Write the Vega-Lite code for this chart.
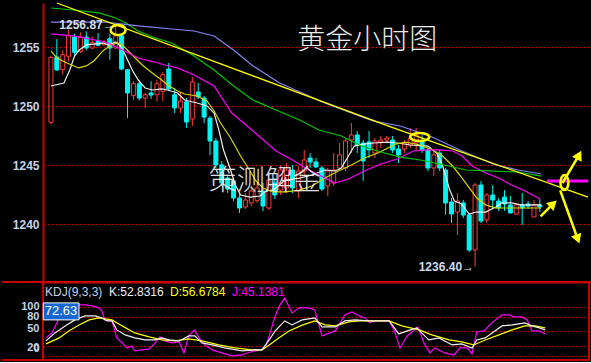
{
"$schema": "https://vega.github.io/schema/vega-lite/v6.json",
"background": "#000000",
"padding": 0,
"spacing": 0,
"bounds": "flush",
"resolve": {"scale": {"color": "independent"}},
"config": {
 "view": {"stroke": null},
 "axis": {"ticks": false, "grid": true, "labelOverlap": false, "format": "d", "labelFont": "Liberation Sans", "labelFontSize": 12, "labelFontWeight": "bold", "labelColor": "#c0d2e8", "labelPadding": 4, "gridColor": "#d00000", "gridDash": [2, 2], "gridWidth": 1, "gridOpacity": 1, "domainColor": "#c80000", "domainWidth": 2},
 "axisX": {"labels": false, "grid": false},
 "text": {"font": "Liberation Sans"}
},
"datasets": {
 "candles": [
{"i":0,"o":1248.64,"h":1254.3,"l":1248.5,"c":1254.15},
{"i":1,"o":1254.18,"h":1255.7,"l":1253.0,"c":1253.08},
{"i":2,"o":1253.1,"h":1254.75,"l":1252.68,"c":1254.37},
{"i":3,"o":1254.24,"h":1256.49,"l":1253.81,"c":1255.98},
{"i":4,"o":1255.87,"h":1256.15,"l":1254.37,"c":1254.58},
{"i":5,"o":1254.66,"h":1256.27,"l":1254.52,"c":1255.87},
{"i":6,"o":1255.87,"h":1256.36,"l":1254.75,"c":1254.94},
{"i":7,"o":1254.94,"h":1255.93,"l":1254.86,"c":1255.42},
{"i":8,"o":1255.51,"h":1256.21,"l":1255.08,"c":1255.17},
{"i":9,"o":1255.22,"h":1255.62,"l":1255.11,"c":1255.42},
{"i":10,"o":1255.73,"h":1256.15,"l":1253.95,"c":1254.94},
{"i":11,"o":1254.94,"h":1256.87,"l":1254.86,"c":1255.98},
{"i":12,"o":1255.98,"h":1256.2,"l":1253.05,"c":1253.16},
{"i":13,"o":1253.1,"h":1253.16,"l":1249.0,"c":1251.13},
{"i":14,"o":1250.9,"h":1252.12,"l":1250.51,"c":1251.91},
{"i":15,"o":1251.91,"h":1252.25,"l":1250.51,"c":1250.7},
{"i":16,"o":1250.7,"h":1251.13,"l":1249.86,"c":1250.98},
{"i":17,"o":1251.13,"h":1252.12,"l":1250.62,"c":1250.96},
{"i":18,"o":1250.98,"h":1252.25,"l":1250.42,"c":1251.91},
{"i":19,"o":1251.27,"h":1252.88,"l":1250.42,"c":1252.68},
{"i":20,"o":1253.16,"h":1253.67,"l":1251.3,"c":1251.47},
{"i":21,"o":1250.98,"h":1251.55,"l":1249.43,"c":1249.86},
{"i":22,"o":1249.86,"h":1251.21,"l":1249.43,"c":1250.45},
{"i":23,"o":1250.37,"h":1250.7,"l":1248.16,"c":1248.67},
{"i":24,"o":1248.92,"h":1252.48,"l":1248.33,"c":1252.06},
{"i":25,"o":1251.21,"h":1251.97,"l":1250.62,"c":1250.79},
{"i":26,"o":1250.7,"h":1250.87,"l":1248.58,"c":1249.09},
{"i":27,"o":1249.0,"h":1249.18,"l":1245.87,"c":1247.06},
{"i":28,"o":1247.06,"h":1247.31,"l":1244.77,"c":1245.03},
{"i":29,"o":1245.03,"h":1245.36,"l":1243.24,"c":1243.5},
{"i":30,"o":1243.92,"h":1244.18,"l":1242.65,"c":1242.99},
{"i":31,"o":1243.67,"h":1243.92,"l":1241.97,"c":1242.23},
{"i":32,"o":1242.23,"h":1242.65,"l":1240.96,"c":1241.38},
{"i":33,"o":1241.47,"h":1242.65,"l":1241.3,"c":1242.06},
{"i":34,"o":1241.81,"h":1243.25,"l":1241.55,"c":1242.82},
{"i":35,"o":1242.0,"h":1243.5,"l":1241.81,"c":1243.08},
{"i":36,"o":1242.82,"h":1243.5,"l":1241.13,"c":1241.55},
{"i":37,"o":1241.38,"h":1244.18,"l":1241.21,"c":1243.75},
{"i":38,"o":1243.5,"h":1243.92,"l":1242.14,"c":1242.48},
{"i":39,"o":1242.9,"h":1245.03,"l":1242.48,"c":1244.6},
{"i":40,"o":1243.08,"h":1245.2,"l":1242.65,"c":1244.6},
{"i":41,"o":1244.6,"h":1245.03,"l":1242.65,"c":1243.08},
{"i":42,"o":1242.82,"h":1244.94,"l":1242.23,"c":1244.52},
{"i":43,"o":1244.52,"h":1246.3,"l":1244.18,"c":1245.45},
{"i":44,"o":1245.62,"h":1246.04,"l":1244.77,"c":1245.28},
{"i":45,"o":1245.28,"h":1245.62,"l":1244.77,"c":1244.86},
{"i":46,"o":1244.77,"h":1244.94,"l":1242.82,"c":1242.99},
{"i":47,"o":1243.25,"h":1244.77,"l":1242.4,"c":1244.52},
{"i":48,"o":1243.5,"h":1246.04,"l":1243.25,"c":1244.6},
{"i":49,"o":1244.77,"h":1246.89,"l":1244.6,"c":1245.88},
{"i":50,"o":1244.77,"h":1247.31,"l":1244.52,"c":1247.06},
{"i":51,"o":1247.14,"h":1248.58,"l":1246.04,"c":1247.57},
{"i":52,"o":1247.57,"h":1247.91,"l":1246.04,"c":1246.72},
{"i":53,"o":1246.89,"h":1247.14,"l":1243.67,"c":1245.37},
{"i":54,"o":1246.98,"h":1247.91,"l":1245.62,"c":1246.3},
{"i":55,"o":1246.04,"h":1247.31,"l":1245.62,"c":1247.06},
{"i":56,"o":1246.98,"h":1247.48,"l":1246.47,"c":1247.14},
{"i":57,"o":1247.14,"h":1247.48,"l":1246.89,"c":1247.31},
{"i":58,"o":1247.14,"h":1247.48,"l":1246.04,"c":1246.3},
{"i":59,"o":1246.38,"h":1246.72,"l":1245.2,"c":1245.87},
{"i":60,"o":1246.38,"h":1247.14,"l":1246.04,"c":1246.89},
{"i":61,"o":1246.72,"h":1248.16,"l":1246.47,"c":1247.31},
{"i":62,"o":1246.89,"h":1248.16,"l":1246.21,"c":1247.57},
{"i":63,"o":1247.06,"h":1247.57,"l":1246.04,"c":1246.3},
{"i":64,"o":1246.3,"h":1246.47,"l":1244.52,"c":1244.77},
{"i":65,"o":1244.77,"h":1246.21,"l":1244.1,"c":1245.88},
{"i":66,"o":1246.04,"h":1246.3,"l":1244.52,"c":1244.77},
{"i":67,"o":1244.6,"h":1244.77,"l":1240.8,"c":1241.81},
{"i":68,"o":1241.89,"h":1242.23,"l":1240.11,"c":1240.87},
{"i":69,"o":1241.04,"h":1242.65,"l":1239.09,"c":1241.97},
{"i":70,"o":1241.81,"h":1242.06,"l":1240.54,"c":1240.79},
{"i":71,"o":1240.79,"h":1240.96,"l":1237.65,"c":1237.82},
{"i":72,"o":1237.82,"h":1243.5,"l":1236.4,"c":1243.33},
{"i":73,"o":1243.33,"h":1243.67,"l":1240.11,"c":1240.28},
{"i":74,"o":1240.37,"h":1242.65,"l":1240.11,"c":1242.48},
{"i":75,"o":1242.48,"h":1243.33,"l":1241.3,"c":1242.06},
{"i":76,"o":1241.97,"h":1242.23,"l":1241.13,"c":1241.38},
{"i":77,"o":1242.31,"h":1242.9,"l":1241.13,"c":1241.72},
{"i":78,"o":1241.64,"h":1242.4,"l":1240.96,"c":1240.96},
{"i":79,"o":1240.87,"h":1241.81,"l":1240.79,"c":1241.64},
{"i":80,"o":1241.64,"h":1242.65,"l":1239.94,"c":1241.38},
{"i":81,"o":1241.72,"h":1241.97,"l":1241.3,"c":1241.55},
{"i":82,"o":1240.62,"h":1242.06,"l":1240.62,"c":1241.64},
{"i":83,"o":1241.64,"h":1242.14,"l":1241.04,"c":1241.47}
 ],
 "ma": [
{"s":"MA5","i":0,"v":1251.72},{"s":"MA5","i":2.2,"v":1251.97},{"s":"MA5","i":3.2,"v":1253.08},{"s":"MA5","i":4,"v":1254.26},{"s":"MA5","i":4.8,"v":1254.77},{"s":"MA5","i":6,"v":1255.2},{"s":"MA5","i":8.8,"v":1255.36},{"s":"MA5","i":9.8,"v":1255.2},{"s":"MA5","i":11,"v":1255.45},{"s":"MA5","i":11.8,"v":1255.11},{"s":"MA5","i":12.7,"v":1254.26},{"s":"MA5","i":13.8,"v":1253.08},{"s":"MA5","i":14.8,"v":1252.23},{"s":"MA5","i":16,"v":1251.55},{"s":"MA5","i":17.2,"v":1251.38},{"s":"MA5","i":18.8,"v":1251.47},{"s":"MA5","i":19.8,"v":1251.38},{"s":"MA5","i":21.5,"v":1251.13},{"s":"MA5","i":22.7,"v":1250.53},{"s":"MA5","i":24.8,"v":1250.28},{"s":"MA5","i":26.5,"v":1250.03},{"s":"MA5","i":27.7,"v":1249.43},{"s":"MA5","i":28.5,"v":1248.0},{"s":"MA5","i":29.3,"v":1246.3},{"s":"MA5","i":30.5,"v":1244.6},{"s":"MA5","i":31.3,"v":1243.33},{"s":"MA5","i":32.2,"v":1242.48},{"s":"MA5","i":33.8,"v":1242.31},{"s":"MA5","i":35.5,"v":1242.4},{"s":"MA5","i":36.5,"v":1242.82},{"s":"MA5","i":37.7,"v":1242.9},{"s":"MA5","i":39.8,"v":1243.75},{"s":"MA5","i":42.2,"v":1243.92},{"s":"MA5","i":44.3,"v":1244.18},{"s":"MA5","i":46.5,"v":1244.6},{"s":"MA5","i":48.2,"v":1244.52},{"s":"MA5","i":49.3,"v":1244.77},{"s":"MA5","i":50.5,"v":1245.79},{"s":"MA5","i":51.5,"v":1246.63},{"s":"MA5","i":53,"v":1246.8},{"s":"MA5","i":54.8,"v":1246.89},{"s":"MA5","i":57.2,"v":1246.97},{"s":"MA5","i":58.8,"v":1246.89},{"s":"MA5","i":61,"v":1246.72},{"s":"MA5","i":64,"v":1246.63},{"s":"MA5","i":65.5,"v":1246.04},{"s":"MA5","i":66.5,"v":1244.94},{"s":"MA5","i":67.7,"v":1242.9},{"s":"MA5","i":68.5,"v":1241.97},{"s":"MA5","i":69.7,"v":1241.72},{"s":"MA5","i":71,"v":1240.87},{"s":"MA5","i":72.2,"v":1241.04},{"s":"MA5","i":73.8,"v":1241.04},{"s":"MA5","i":75.5,"v":1241.47},{"s":"MA5","i":76.5,"v":1241.81},{"s":"MA5","i":78.2,"v":1241.81},{"s":"MA5","i":79.8,"v":1241.64},{"s":"MA5","i":81.5,"v":1241.64},{"s":"MA5","i":83.2,"v":1241.64},
{"s":"MA10","i":0,"v":1254.69},{"s":"MA10","i":1,"v":1254.1},{"s":"MA10","i":2.7,"v":1253.67},{"s":"MA10","i":4.7,"v":1253.25},{"s":"MA10","i":6,"v":1253.42},{"s":"MA10","i":7.3,"v":1253.84},{"s":"MA10","i":8.8,"v":1254.69},{"s":"MA10","i":10.2,"v":1255.2},{"s":"MA10","i":11.3,"v":1255.37},{"s":"MA10","i":12.3,"v":1255.11},{"s":"MA10","i":13.8,"v":1254.35},{"s":"MA10","i":15.5,"v":1253.5},{"s":"MA10","i":17.2,"v":1252.82},{"s":"MA10","i":18.8,"v":1252.23},{"s":"MA10","i":19.8,"v":1251.8},{"s":"MA10","i":21.5,"v":1251.3},{"s":"MA10","i":22.7,"v":1251.04},{"s":"MA10","i":24.8,"v":1250.87},{"s":"MA10","i":26.5,"v":1250.45},{"s":"MA10","i":27.7,"v":1249.6},{"s":"MA10","i":28.8,"v":1248.58},{"s":"MA10","i":30.5,"v":1247.31},{"s":"MA10","i":32.2,"v":1245.79},{"s":"MA10","i":33.8,"v":1244.52},{"s":"MA10","i":34.8,"v":1243.67},{"s":"MA10","i":36,"v":1243.08},{"s":"MA10","i":37.7,"v":1242.74},{"s":"MA10","i":39.8,"v":1242.74},{"s":"MA10","i":42.2,"v":1242.9},{"s":"MA10","i":44.3,"v":1243.25},{"s":"MA10","i":46.5,"v":1243.92},{"s":"MA10","i":48.8,"v":1244.52},{"s":"MA10","i":51,"v":1245.03},{"s":"MA10","i":53.2,"v":1245.62},{"s":"MA10","i":55.5,"v":1246.04},{"s":"MA10","i":57.2,"v":1246.47},{"s":"MA10","i":58.5,"v":1246.8},{"s":"MA10","i":60.2,"v":1246.97},{"s":"MA10","i":62.7,"v":1246.72},{"s":"MA10","i":64.8,"v":1246.3},{"s":"MA10","i":66.5,"v":1245.79},{"s":"MA10","i":68.2,"v":1244.94},{"s":"MA10","i":69.8,"v":1243.92},{"s":"MA10","i":71.3,"v":1242.9},{"s":"MA10","i":72.3,"v":1242.23},{"s":"MA10","i":73.8,"v":1241.64},{"s":"MA10","i":75.5,"v":1241.38},{"s":"MA10","i":83.2,"v":1241.38},
{"s":"MA20","i":0,"v":1256.13},{"s":"MA20","i":3.8,"v":1255.96},{"s":"MA20","i":9.3,"v":1255.45},{"s":"MA20","i":12.2,"v":1254.77},{"s":"MA20","i":14.8,"v":1254.09},{"s":"MA20","i":17.7,"v":1253.75},{"s":"MA20","i":19.3,"v":1253.5},{"s":"MA20","i":21.5,"v":1253.25},{"s":"MA20","i":24.3,"v":1252.65},{"s":"MA20","i":27.7,"v":1251.72},{"s":"MA20","i":30.7,"v":1249.43},{"s":"MA20","i":32.7,"v":1248.58},{"s":"MA20","i":35.5,"v":1247.4},{"s":"MA20","i":38.2,"v":1246.21},{"s":"MA20","i":41,"v":1245.45},{"s":"MA20","i":43.8,"v":1244.6},{"s":"MA20","i":46.5,"v":1243.92},{"s":"MA20","i":48.2,"v":1243.5},{"s":"MA20","i":50.5,"v":1243.84},{"s":"MA20","i":53.2,"v":1244.52},{"s":"MA20","i":56,"v":1245.11},{"s":"MA20","i":58.8,"v":1245.53},{"s":"MA20","i":61.5,"v":1246.21},{"s":"MA20","i":63.8,"v":1246.3},{"s":"MA20","i":66,"v":1246.3},{"s":"MA20","i":68.2,"v":1246.21},{"s":"MA20","i":69.8,"v":1245.79},{"s":"MA20","i":71.5,"v":1244.94},{"s":"MA20","i":73.8,"v":1244.35},{"s":"MA20","i":76,"v":1243.92},{"s":"MA20","i":78.2,"v":1243.33},{"s":"MA20","i":80.5,"v":1242.82},{"s":"MA20","i":83,"v":1242.14},
{"s":"MA60","i":0,"v":1258.33},{"s":"MA60","i":3.8,"v":1258.16},{"s":"MA60","i":8.2,"v":1257.91},{"s":"MA60","i":11,"v":1257.48},{"s":"MA60","i":12.7,"v":1257.06},{"s":"MA60","i":14.8,"v":1256.38},{"s":"MA60","i":17.7,"v":1255.79},{"s":"MA60","i":20.5,"v":1255.36},{"s":"MA60","i":24.3,"v":1254.26},{"s":"MA60","i":27.7,"v":1253.08},{"s":"MA60","i":31,"v":1251.72},{"s":"MA60","i":34.3,"v":1250.53},{"s":"MA60","i":38.2,"v":1249.69},{"s":"MA60","i":42.2,"v":1248.84},{"s":"MA60","i":45.5,"v":1247.99},{"s":"MA60","i":49.3,"v":1247.48},{"s":"MA60","i":52.7,"v":1246.63},{"s":"MA60","i":56,"v":1246.13},{"s":"MA60","i":59.3,"v":1245.7},{"s":"MA60","i":62.7,"v":1245.45},{"s":"MA60","i":66,"v":1245.11},{"s":"MA60","i":70.5,"v":1244.6},{"s":"MA60","i":74.3,"v":1244.52},{"s":"MA60","i":79.3,"v":1244.43},{"s":"MA60","i":83.2,"v":1244.09},
{"s":"MA120","i":0,"v":1257.14},{"s":"MA120","i":9.3,"v":1257.14},{"s":"MA120","i":14.8,"v":1256.81},{"s":"MA120","i":20.5,"v":1256.55},{"s":"MA120","i":24.3,"v":1256.38},{"s":"MA120","i":27.7,"v":1255.96},{"s":"MA120","i":31,"v":1254.77},{"s":"MA120","i":34.3,"v":1253.42},{"s":"MA120","i":38.8,"v":1251.97},{"s":"MA120","i":42.7,"v":1251.13},{"s":"MA120","i":46.5,"v":1250.28},{"s":"MA120","i":51,"v":1249.43},{"s":"MA120","i":54.8,"v":1248.75},{"s":"MA120","i":59.3,"v":1248.33},{"s":"MA120","i":64.3,"v":1247.48},{"s":"MA120","i":69.8,"v":1246.21},{"s":"MA120","i":75.5,"v":1245.03},{"s":"MA120","i":79.3,"v":1244.6},{"s":"MA120","i":83.2,"v":1244.26}
 ],
 "kdj": [
{"s":"J","i":0,"v":36.6},{"s":"J","i":1,"v":46.9},{"s":"J","i":1.8,"v":67.6},{"s":"J","i":2.7,"v":92.4},{"s":"J","i":3.5,"v":102.7},{"s":"J","i":4.7,"v":104.8},{"s":"J","i":6.5,"v":104.8},{"s":"J","i":7.7,"v":102.7},{"s":"J","i":8.8,"v":98.6},{"s":"J","i":9.3,"v":92.4},{"s":"J","i":9.8,"v":73.8},{"s":"J","i":11,"v":71.7},{"s":"J","i":11.8,"v":36.6},{"s":"J","i":12.7,"v":26.2},{"s":"J","i":13.5,"v":15.9},{"s":"J","i":14.3,"v":20},{"s":"J","i":14.8,"v":9.7},{"s":"J","i":16,"v":11.8},{"s":"J","i":17.2,"v":13.8},{"s":"J","i":18.2,"v":26.2},{"s":"J","i":19,"v":38.6},{"s":"J","i":19.8,"v":30.4},{"s":"J","i":21,"v":26.2},{"s":"J","i":22.2,"v":28.3},{"s":"J","i":23,"v":5.6},{"s":"J","i":23.8,"v":40.7},{"s":"J","i":24.7,"v":53.1},{"s":"J","i":25.5,"v":36.6},{"s":"J","i":26.5,"v":22.1},{"s":"J","i":27.7,"v":11.8},{"s":"J","i":29.3,"v":5.6},{"s":"J","i":31,"v":-0.6},{"s":"J","i":32.7,"v":1.4},{"s":"J","i":34,"v":7.6},{"s":"J","i":35.7,"v":11.8},{"s":"J","i":36.5,"v":15.9},{"s":"J","i":37.2,"v":40.7},{"s":"J","i":38.2,"v":82},{"s":"J","i":39,"v":104.8},{"s":"J","i":39.8,"v":119.2},{"s":"J","i":41,"v":88.2},{"s":"J","i":42.2,"v":98.6},{"s":"J","i":43.8,"v":98.6},{"s":"J","i":44.8,"v":94.5},{"s":"J","i":46,"v":40.7},{"s":"J","i":48.2,"v":51},{"s":"J","i":49.8,"v":84.1},{"s":"J","i":51,"v":90.3},{"s":"J","i":52.2,"v":82},{"s":"J","i":53.2,"v":77.9},{"s":"J","i":54,"v":67.6},{"s":"J","i":54.7,"v":71.7},{"s":"J","i":57.2,"v":71.7},{"s":"J","i":58,"v":53.1},{"s":"J","i":59,"v":15.9},{"s":"J","i":60.2,"v":40.7},{"s":"J","i":62,"v":59.3},{"s":"J","i":63,"v":26.2},{"s":"J","i":64,"v":5.6},{"s":"J","i":64.8,"v":15.9},{"s":"J","i":66.5,"v":5.6},{"s":"J","i":68,"v":1.4},{"s":"J","i":69,"v":15.9},{"s":"J","i":70.2,"v":15.9},{"s":"J","i":71,"v":3.5},{"s":"J","i":71.8,"v":48.9},{"s":"J","i":73,"v":51},{"s":"J","i":74.3,"v":67.6},{"s":"J","i":76,"v":84.1},{"s":"J","i":77.2,"v":84.1},{"s":"J","i":78,"v":80},{"s":"J","i":79.3,"v":80},{"s":"J","i":80.2,"v":73.8},{"s":"J","i":81,"v":51},{"s":"J","i":82.2,"v":51},{"s":"J","i":83.2,"v":44.8},
{"s":"D","i":0,"v":24.2},{"s":"D","i":2.2,"v":36.6},{"s":"D","i":3.8,"v":51},{"s":"D","i":5.5,"v":63.4},{"s":"D","i":7.2,"v":73.8},{"s":"D","i":8.8,"v":77.9},{"s":"D","i":11,"v":73.8},{"s":"D","i":12.7,"v":61.4},{"s":"D","i":14.8,"v":46.9},{"s":"D","i":17.2,"v":38.6},{"s":"D","i":19.3,"v":32.4},{"s":"D","i":21.5,"v":30.4},{"s":"D","i":23.8,"v":34.5},{"s":"D","i":26,"v":30.4},{"s":"D","i":28.8,"v":22.1},{"s":"D","i":31.5,"v":15.9},{"s":"D","i":34.3,"v":11.8},{"s":"D","i":36,"v":11.8},{"s":"D","i":37.2,"v":22.1},{"s":"D","i":38.8,"v":36.6},{"s":"D","i":40.5,"v":51},{"s":"D","i":42.7,"v":63},{"s":"D","i":44.8,"v":71.7},{"s":"D","i":46.5,"v":63.4},{"s":"D","i":48.2,"v":61.4},{"s":"D","i":50.5,"v":69.6},{"s":"D","i":52.2,"v":71.7},{"s":"D","i":57.2,"v":71.7},{"s":"D","i":59.3,"v":61.4},{"s":"D","i":62.2,"v":53.1},{"s":"D","i":64.3,"v":42.8},{"s":"D","i":67.2,"v":32.4},{"s":"D","i":69.3,"v":28.3},{"s":"D","i":71.3,"v":22.1},{"s":"D","i":73.2,"v":32.4},{"s":"D","i":75.5,"v":42.8},{"s":"D","i":77.7,"v":53.1},{"s":"D","i":79.8,"v":61.4},{"s":"D","i":81.5,"v":61.4},{"s":"D","i":83.2,"v":57.2},
{"s":"K","i":0,"v":30.4},{"s":"K","i":1.5,"v":46.9},{"s":"K","i":3.2,"v":61.4},{"s":"K","i":4.8,"v":73.8},{"s":"K","i":6.5,"v":82},{"s":"K","i":8.2,"v":82},{"s":"K","i":9.3,"v":77.9},{"s":"K","i":10.2,"v":71.7},{"s":"K","i":11,"v":71.7},{"s":"K","i":11.8,"v":53.1},{"s":"K","i":13.2,"v":42.8},{"s":"K","i":14.8,"v":36.6},{"s":"K","i":16.5,"v":32.4},{"s":"K","i":18.2,"v":32.4},{"s":"K","i":19.3,"v":36.6},{"s":"K","i":20.5,"v":32.4},{"s":"K","i":22.2,"v":30.4},{"s":"K","i":23.8,"v":40.7},{"s":"K","i":24.8,"v":40.7},{"s":"K","i":26,"v":26.2},{"s":"K","i":27.7,"v":22.1},{"s":"K","i":29.8,"v":15.9},{"s":"K","i":32.7,"v":9.7},{"s":"K","i":34.8,"v":11.8},{"s":"K","i":36,"v":11.8},{"s":"K","i":37.2,"v":32.4},{"s":"K","i":38.2,"v":51},{"s":"K","i":39.8,"v":71.7},{"s":"K","i":41,"v":63.4},{"s":"K","i":42.7,"v":73.8},{"s":"K","i":44.8,"v":77.9},{"s":"K","i":46,"v":59.3},{"s":"K","i":48.2,"v":59.3},{"s":"K","i":49.8,"v":71.7},{"s":"K","i":51.5,"v":73.8},{"s":"K","i":53.8,"v":71.7},{"s":"K","i":57.2,"v":71.7},{"s":"K","i":58.8,"v":44.8},{"s":"K","i":60.2,"v":51},{"s":"K","i":61.8,"v":57.2},{"s":"K","i":63.8,"v":32.4},{"s":"K","i":65.5,"v":36.6},{"s":"K","i":67.7,"v":22.1},{"s":"K","i":69.3,"v":24.2},{"s":"K","i":71,"v":15.9},{"s":"K","i":71.8,"v":32.4},{"s":"K","i":73.2,"v":36.6},{"s":"K","i":76,"v":61.4},{"s":"K","i":77.7,"v":63.4},{"s":"K","i":79.8,"v":67.6},{"s":"K","i":81,"v":61.4},{"s":"K","i":82.2,"v":57.2},{"s":"K","i":83.2,"v":53.1}
 ]
},
"vconcat": [
 {
  "width": 550,
  "height": 279,
  "encoding": {
   "x": {"field": "i", "type": "quantitative", "title": null, "scale": {"domain": [-0.5, 91.17], "nice": false, "zero": false}},
   "y": {"field": "v", "type": "quantitative", "title": null, "scale": {"domain": [1235.11, 1258.754], "nice": false, "zero": false}, "axis": {"values": [1240, 1245, 1250, 1255], "grid": true}}
  },
  "layer": [
   {"data": {"name": "candles"}, "mark": {"type": "rule", "strokeWidth": 1},
    "encoding": {
     "y": {"field": "l", "type": "quantitative", "title": null, "scale": {"domain": [1235.11, 1258.754], "nice": false, "zero": false}, "axis": {"values": [1240, 1245, 1250, 1255], "grid": true}},
     "y2": {"field": "h"},
     "color": {"condition": {"test": "datum.c > datum.o", "value": "#ff3c3c"}, "value": "#00f4f4"}}},
   {"data": {"name": "candles"}, "mark": {"type": "bar", "size": 4, "strokeWidth": 1},
    "encoding": {
     "y": {"field": "o", "type": "quantitative", "title": null, "scale": {"domain": [1235.11, 1258.754], "nice": false, "zero": false}, "axis": {"values": [1240, 1245, 1250, 1255], "grid": true}},
     "y2": {"field": "c"},
     "fill": {"condition": {"test": "datum.c > datum.o", "value": "#000000"}, "value": "#00f4f4"},
     "stroke": {"condition": {"test": "datum.c > datum.o", "value": "#ff3c3c"}, "value": "#00f4f4"}}},
   {"data": {"name": "ma"}, "mark": {"type": "line", "strokeWidth": 1.2},
    "encoding": {
     "color": {"field": "s", "type": "nominal", "legend": null, "scale": {"domain": ["MA5", "MA10", "MA20", "MA60", "MA120"], "range": ["#eeeeee", "#d6d600", "#ff00ff", "#00c800", "#8484f0"]}}}},
   {"data": {"values": [{"i": 1, "v": 1258.754}, {"i": 57.67, "v": 1248.25}, {"i": 91.17, "v": 1242.31}]},
    "mark": {"type": "line", "color": "#ffff00", "strokeWidth": 1.3}},
   {"data": {"values": [{"i": 84.2, "i2": 91.2, "v": 1243.67}]},
    "mark": {"type": "rule", "color": "#ff00ff", "strokeWidth": 3},
    "encoding": {"x2": {"field": "i2"}}},
   {"data": {"values": [{"i": 83.12, "v": 1240.68, "i2": 85.27, "v2": 1241.75}, {"i": 86.83, "v": 1243.5, "i2": 89.65, "v2": 1245.87}, {"i": 86.45, "v": 1242.88, "i2": 89.43, "v2": 1238.75}]},
    "mark": {"type": "rule", "color": "#ffff00", "strokeWidth": 2.5},
    "encoding": {"x2": {"field": "i2"}, "y2": {"field": "v2"}}},
   {"data": {"values": [{"i": 85.27, "v": 1241.75}]},
    "mark": {"type": "point", "shape": "triangle-up", "angle": 47, "size": 120, "filled": true, "color": "#ffff00", "opacity": 1}},
   {"data": {"values": [{"i": 89.65, "v": 1245.87}]},
    "mark": {"type": "point", "shape": "triangle-up", "angle": 28, "size": 120, "filled": true, "color": "#ffff00", "opacity": 1}},
   {"data": {"values": [{"i": 89.43, "v": 1238.75}]},
    "mark": {"type": "point", "shape": "triangle-up", "angle": 160, "size": 120, "filled": true, "color": "#ffff00", "opacity": 1}},
   {"data": {"values": [{"i": 11.4, "v": 1256.47}]},
    "mark": {"type": "point", "shape": "M -1 0 A 1 0.67 0 1 1 1 0 A 1 0.67 0 1 1 -1 0 Z", "size": 225, "filled": false, "color": "#ffff00", "strokeWidth": 2.5, "opacity": 1}},
   {"data": {"values": [{"i": 62.6, "v": 1247.4}]},
    "mark": {"type": "point", "shape": "M -1 0 A 1 0.42 0 1 1 1 0 A 1 0.42 0 1 1 -1 0 Z", "size": 361, "filled": false, "color": "#ffff00", "strokeWidth": 2.5, "opacity": 1}},
   {"data": {"values": [{"i": 87.17, "v": 1243.54}]},
    "mark": {"type": "point", "shape": "M 0 -1 A 0.53 1 0 1 1 0 1 A 0.53 1 0 1 1 0 -1 Z", "size": 225, "filled": false, "color": "#ffff00", "strokeWidth": 2.5, "opacity": 1}},
   {"data": {"values": [{"i": 11, "v": 1256.87, "t": "1256.87→"}, {"i": 72, "v": 1236.4, "t": "1236.40→"}]},
    "mark": {"type": "text", "align": "right", "baseline": "middle", "dx": -1, "fontSize": 12, "fontWeight": "bold", "color": "#d0dcec"},
    "encoding": {"text": {"field": "t"}}},
   {"data": {"values": [{"i": 53.7, "v": 1255.5, "t": "黄金小时图"}]},
    "mark": {"type": "text", "align": "center", "baseline": "middle", "fontSize": 28, "font": "Noto Sans CJK SC", "fontWeight": 300, "color": "#ececec"},
    "encoding": {"text": {"field": "t"}}},
   {"data": {"values": [{"i": 36.3, "v": 1243.6, "t": "策测解金"}]},
    "mark": {"type": "text", "align": "center", "baseline": "middle", "fontSize": 28, "font": "Noto Sans CJK SC", "fontWeight": 300, "color": "#f4f4f4", "opacity": 0.9},
    "encoding": {"text": {"field": "t"}}}
  ]
 },
 {
  "width": 546,
  "height": 78,
  "view": {"stroke": "#c80000", "strokeWidth": 2},
  "encoding": {
   "x": {"field": "i", "type": "quantitative", "title": null, "axis": null, "scale": {"domain": [-0.5, 90.5], "nice": false, "zero": false}},
   "y": {"field": "v", "type": "quantitative", "title": null, "scale": {"domain": [-9, 152], "nice": false, "zero": false},
      "axis": {"values": [0, 20, 50, 80, 100], "grid": true, "domain": false, "labelFontSize": 11, "labelOffset": {"condition": [{"test": "datum.value == 0", "value": -7}, {"test": "datum.value == 50", "value": -3}, {"test": "datum.value == 20", "value": 2}, {"test": "datum.value == 100", "value": -1}], "value": 0}}}
  },
  "layer": [
   {"data": {"name": "kdj"}, "mark": {"type": "line", "strokeWidth": 1.2},
    "encoding": {
     "color": {"field": "s", "type": "nominal", "legend": null, "scale": {"domain": ["K", "D", "J", "KDJ"], "range": ["#f0f0f0", "#ffff00", "#ff00ff", "#c0d2e8"]}}}},
   {"data": {"values": [{"i": -7.33, "i2": 90.5, "v": 152}, {"i": -7.33, "i2": 90.5, "v": -9}]},
    "mark": {"type": "rule", "color": "#c80000", "strokeWidth": 2},
    "encoding": {"x2": {"field": "i2"}}},
   {"data": {"values": [{"i": -0.45, "i2": 5.5, "v": 108.9, "v2": 73.8}]},
    "mark": {"type": "rect", "fill": "#1466d2", "stroke": "#ffffff", "strokeWidth": 1},
    "encoding": {"x2": {"field": "i2"}, "y2": {"field": "v2"}}},
   {"data": {"values": [{"i": 2.5, "v": 91.3, "t": "72.63"}]},
    "mark": {"type": "text", "align": "center", "baseline": "middle", "fontSize": 13, "color": "#ffffff"},
    "encoding": {"text": {"field": "t"}}},
   {"data": {"values": [{"s": "KDJ", "i": -0.17, "v": 131.6, "t": "KDJ(9,3,3)"}, {"s": "K", "i": 10.5, "v": 131.6, "t": "K:52.8316"}, {"s": "D", "i": 20.67, "v": 131.6, "t": "D:56.6784"}, {"s": "J", "i": 31, "v": 131.6, "t": "J:45.1381"}]},
    "mark": {"type": "text", "align": "left", "baseline": "middle", "fontSize": 12},
    "encoding": {"text": {"field": "t"},
     "color": {"field": "s", "type": "nominal", "legend": null, "scale": {"domain": ["K", "D", "J", "KDJ"], "range": ["#f0f0f0", "#ffff00", "#ff00ff", "#c0d2e8"]}}}}
  ]
 }
]
}
